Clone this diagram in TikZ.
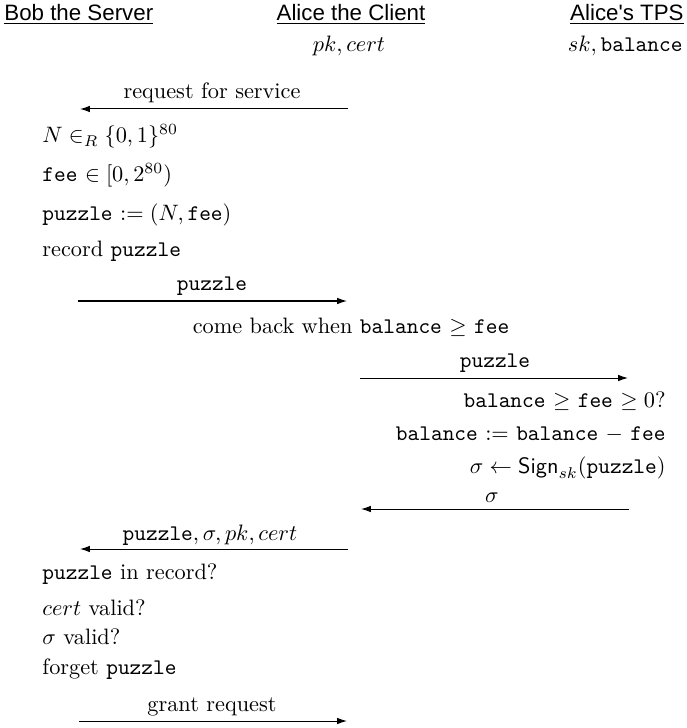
\documentclass[tikz,border=0pt]{standalone}
\usepackage{amsmath,amssymb}
\usepackage{fontspec}
\usepackage{tikz}
\usetikzlibrary{arrows.meta}
\newfontfamily\partyfont{Liberation Sans}
\newcommand{\tv}[1]{\texttt{#1}}

\begin{document}
\begin{tikzpicture}[
  x=0.4484pt,y=-0.4484pt,
  party/.style={font=\partyfont,inner sep=0pt},
  act/.style={anchor=base west,inner sep=0pt},
  tps/.style={anchor=base east,inner sep=0pt},
  lbl/.style={anchor=base,inner sep=0pt},
  msg/.style={-{Latex[length=4.4pt,width=2.9pt]},line width=0.45pt}
]
\useasboundingbox (0,0) rectangle (686,728);
% parties
\node[party,anchor=base west] (bob) at (4,20.5) {\underline{Bob the Server}};
\node[party,anchor=base] (alice) at (351,20.5) {\underline{Alice the Client}};
\node[party,anchor=base east] (tps) at (684,20.5) {\underline{Alice's TPS}};
\node[lbl] (akeys) at (349,52) {$pk, cert$};
\node[tps] (tkeys) at (683,52) {$sk,\text{\tv{balance}}$};
% request
\coordinate (req1) at (348,109);
\coordinate (req2) at (80,109);
\draw[msg] (req1) -- (req2);
\node[lbl] (reqlbl) at (212,99) {request for service};
% Bob makes a puzzle
\node[act] (nonce) at (42,143) {$N \in_R \{0,1\}^{80}$};
\node[act] (fee) at (42,182) {\tv{fee} $\in [0,2^{80})$};
\node[act] (puz) at (42,221) {\tv{puzzle} $:= (N,\text{\tv{fee}})$};
\node[act] (rec) at (42,256) {record \tv{puzzle}};
\coordinate (puz1) at (78,301);
\coordinate (puz2) at (347,301);
\draw[msg] (puz1) -- (puz2);
\node[lbl] (puzlbl) at (212,290) {\tv{puzzle}};
\node[lbl] (later) at (351,333) {come back when \tv{balance} $\geq$ \tv{fee}};
% Alice asks her TPS
\coordinate (tp1) at (360,378);
\coordinate (tp2) at (628,378);
\draw[msg] (tp1) -- (tp2);
\node[lbl] (tplbl) at (495,367) {\tv{puzzle}};
\node[tps] (chk) at (666,407) {\tv{balance} $\geq$ \tv{fee} $\geq 0$?};
\node[tps] (dec) at (666,440) {\tv{balance} $:=$ \tv{balance} $-$ \tv{fee}};
\node[tps] (sgn) at (666,473) {$\sigma \leftarrow \mathsf{Sign}_{sk}(\text{\tv{puzzle}})$};
\coordinate (sg1) at (629,509);
\coordinate (sg2) at (361,509);
\draw[msg] (sg1) -- (sg2);
\node[lbl] (sglbl) at (492,502) {$\sigma$};
% back to Bob
\coordinate (ans1) at (348,549);
\coordinate (ans2) at (80,549);
\draw[msg] (ans1) -- (ans2);
\node[lbl] (anslbl) at (210,540) {\tv{puzzle}$, \sigma, pk, cert$};
\node[act] (inrec) at (42,579) {\tv{puzzle} in record?};
\node[act] (cval) at (42,615) {$cert$ valid?};
\node[act] (sval) at (42,644) {$\sigma$ valid?};
\node[act] (forget) at (42,674) {forget \tv{puzzle}};
\coordinate (gr1) at (79,721);
\coordinate (gr2) at (347,721);
\draw[msg] (gr1) -- (gr2);
\node[lbl] (grlbl) at (212,711) {grant request};
\end{tikzpicture}
\end{document}
